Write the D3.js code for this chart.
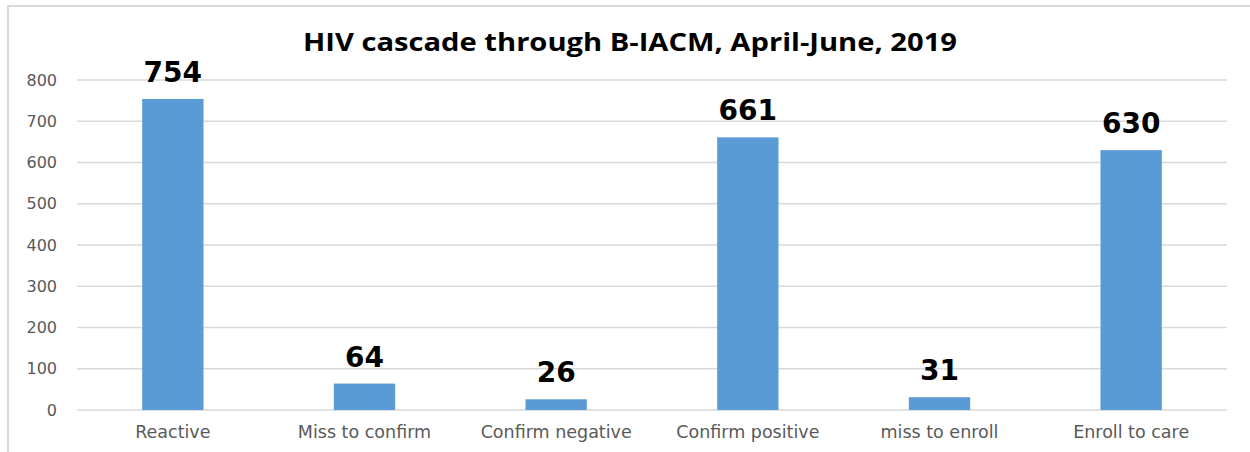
<!DOCTYPE html>
<html><head><meta charset="utf-8">
<script src="https://cdn.jsdelivr.net/npm/d3@7"></script>
<style>body{margin:0;background:#fff}svg{display:block}</style>
</head><body><div id="chart"></div>
<script>
const categories = ["Reactive","Miss to confirm","Confirm negative","Confirm positive","miss to enroll","Enroll to care"];
const values = [754, 64, 26, 661, 31, 630];
const yTicks = [0,100,200,300,400,500,600,700,800];
const title = "HIV cascade through B-IACM, April-June, 2019";

const W = 1250, H = 452;
const svg = d3.select("#chart").append("svg").attr("width", W).attr("height", H);

// outer border
svg.append("rect").attr("x", 8).attr("y", 6).attr("width", W).attr("height", H)
  .attr("fill", "#fff").attr("stroke", "#d9d9d9").attr("stroke-width", 2);

const x = d3.scaleBand().domain(categories).range([77, 1227]).paddingInner(0.68).paddingOuter(0.34);
const y = d3.scaleLinear().domain([0, 800]).range([410, 80]);

// grid
svg.append("g").selectAll("line").data(yTicks).join("line")
  .attr("x1", 77).attr("x2", 1227)
  .attr("y1", d => y(d)).attr("y2", d => y(d))
  .attr("stroke", "#d9d9d9").attr("stroke-width", 1.5);

// y axis labels
const yAxis = d3.axisLeft(y).tickValues(yTicks).tickSize(0).tickPadding(0);
const gy = svg.append("g").attr("transform", "translate(57,0)").call(yAxis);
gy.select(".domain").remove();
gy.selectAll("text").attr("font-family", "DejaVu Sans").attr("font-size", 16).attr("fill", "#595959");

// bars
svg.append("g").selectAll("rect").data(values).join("rect")
  .attr("x", (d, i) => x(categories[i]))
  .attr("width", x.bandwidth())
  .attr("y", d => y(d))
  .attr("height", d => y(0) - y(d))
  .attr("fill", "#5b9bd5");

// value labels
svg.append("g").selectAll("text").data(values).join("text")
  .attr("x", (d, i) => x(categories[i]) + x.bandwidth() / 2)
  .attr("y", d => y(d) - 17)
  .attr("text-anchor", "middle")
  .attr("font-family", "DejaVu Sans").attr("font-weight", "bold").attr("font-size", 28)
  .attr("fill", "#000").text(d => d);

// x axis labels
const xAxis = d3.axisBottom(x).tickSize(0).tickPadding(0);
const gx = svg.append("g").attr("transform", "translate(0,426)").call(xAxis);
gx.select(".domain").remove();
gx.selectAll("text").attr("font-family", "DejaVu Sans").attr("font-size", 17.5).attr("fill", "#595959");

// title
svg.append("text").attr("x", 630).attr("y", 51).attr("text-anchor", "middle")
  .attr("font-family", "Open Sans").attr("font-weight", "bold").attr("font-size", 25)
  .attr("textLength", 654).attr("lengthAdjust", "spacingAndGlyphs")
  .attr("fill", "#000").text(title);
</script></body></html>
